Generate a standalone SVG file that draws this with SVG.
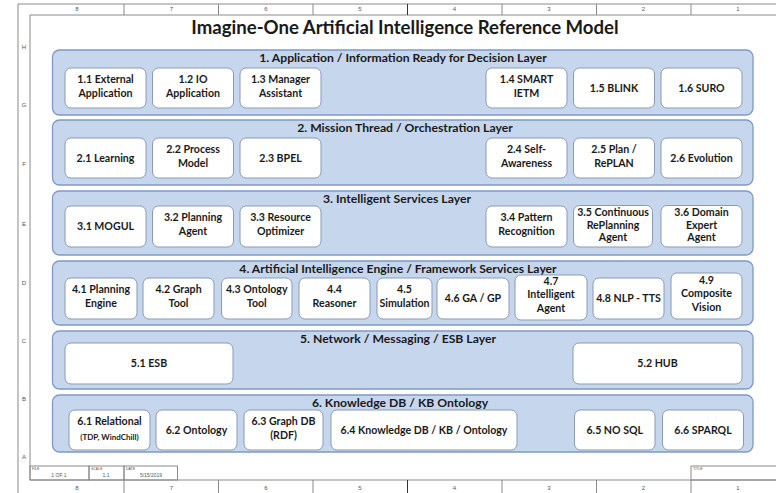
<svg xmlns="http://www.w3.org/2000/svg" width="776" height="493" viewBox="0 0 776 493">
<style>
.frame{fill:none;stroke:#8a8a8a;stroke-width:1}
.rul{font-family:"Liberation Sans",Arial,sans-serif;font-size:6px;fill:#555;text-anchor:middle}
.tb{font-family:"Liberation Sans",Arial,sans-serif;font-size:3.5px;fill:#555}
.tbv{font-family:"Liberation Sans",Arial,sans-serif;font-size:5px;fill:#555;text-anchor:middle}
.layer{fill:#c6d6ed;stroke:#7f99c6;stroke-width:1.3}
.node{fill:#ffffff;stroke:#8c9bb5;stroke-width:1}
.lt{font-family:Lato,"Open Sans",sans-serif;font-weight:bold;font-size:12.2px;fill:#1a1a1a;text-anchor:middle}
.nt{font-family:Lato,"Open Sans",sans-serif;font-weight:bold;font-size:10.6px;fill:#1a1a1a;text-anchor:middle}
.sm{font-size:8px}
.title{font-family:Lato,"Open Sans",sans-serif;font-weight:bold;font-size:18.6px;fill:#1a1a1a;text-anchor:middle}
</style>
<rect width="776" height="493" fill="#ffffff"/>
<g id="frame">
  <line class="frame" x1="18" y1="4" x2="18" y2="493"/>
  <line class="frame" x1="18" y1="4" x2="776" y2="4"/>
  <line class="frame" x1="30" y1="15" x2="776" y2="15"/>
  <line class="frame" x1="30" y1="15" x2="30" y2="480"/>
  <line class="frame" x1="30" y1="480" x2="776" y2="480"/>
  <g stroke="#8a8a8a" stroke-width="1">
    <line x1="124" y1="4" x2="124" y2="15"/><line x1="218.5" y1="4" x2="218.5" y2="15"/><line x1="313" y1="4" x2="313" y2="15"/>
    <line x1="407.5" y1="4" x2="407.5" y2="15" stroke="#333"/>
    <line x1="502" y1="4" x2="502" y2="15"/><line x1="596.5" y1="4" x2="596.5" y2="15"/><line x1="691" y1="4" x2="691" y2="15"/>
    <line x1="124" y1="480" x2="124" y2="493"/><line x1="218.5" y1="480" x2="218.5" y2="493"/><line x1="313" y1="480" x2="313" y2="493"/>
    <line x1="407.5" y1="480" x2="407.5" y2="493" stroke="#333"/>
    <line x1="502" y1="480" x2="502" y2="493"/><line x1="596.5" y1="480" x2="596.5" y2="493"/><line x1="691" y1="480" x2="691" y2="493"/>
  </g>
  <text class="rul" x="77" y="11">8</text><text class="rul" x="171.5" y="11">7</text><text class="rul" x="266" y="11">6</text><text class="rul" x="360" y="11">5</text>
  <text class="rul" x="454.5" y="11">4</text><text class="rul" x="549" y="11">3</text><text class="rul" x="643.5" y="11">2</text><text class="rul" x="738" y="11">1</text>
  <text class="rul" x="77" y="490">8</text><text class="rul" x="171.5" y="490">7</text><text class="rul" x="266" y="490">6</text><text class="rul" x="360" y="490">5</text>
  <text class="rul" x="454.5" y="490">4</text><text class="rul" x="549" y="490">3</text><text class="rul" x="643.5" y="490">2</text><text class="rul" x="738" y="490">1</text>
  <text class="rul" x="24" y="49">H</text><text class="rul" x="24" y="107">G</text><text class="rul" x="24" y="166">F</text><text class="rul" x="24" y="226">E</text>
  <text class="rul" x="24" y="285">D</text><text class="rul" x="24" y="343">C</text><text class="rul" x="24" y="401">B</text><text class="rul" x="24" y="459">A</text>
  <rect class="frame" x="30" y="466" width="59" height="14"/>
  <rect class="frame" x="89" y="466" width="35" height="14"/>
  <rect class="frame" x="124" y="466" width="53.5" height="14"/>
  <rect class="frame" x="691" y="466" width="90" height="14"/>
  <text class="tb" x="32" y="470">FILE</text><text class="tbv" x="59" y="477">1 OF 1</text>
  <text class="tb" x="91" y="470">SCALE</text><text class="tbv" x="106" y="477">1:1</text>
  <text class="tb" x="126" y="470">DATE</text><text class="tbv" x="151" y="477">5/15/2019</text>
  <text class="tb" x="693" y="470">TITLE</text>
</g>
<text class="title" x="405" y="34">Imagine-One Artificial Intelligence Reference Model</text>

<g id="layer1">
  <rect class="layer" x="52.5" y="50" width="700.5" height="65" rx="7"/>
  <text class="lt" x="403" y="61.5">1. Application / Information Ready for Decision Layer</text>
</g>
<g id="layer2">
  <rect class="layer" x="52.5" y="120" width="700.5" height="65" rx="7"/>
  <text class="lt" x="405" y="132">2. Mission Thread / Orchestration Layer</text>
</g>
<g id="layer3">
  <rect class="layer" x="52.5" y="191" width="700.5" height="64" rx="7"/>
  <text class="lt" x="397" y="203">3. Intelligent Services Layer</text>
</g>
<g id="layer4">
  <rect class="layer" x="52.5" y="261" width="700.5" height="64" rx="7"/>
  <text class="lt" x="398" y="272.5">4. Artificial Intelligence Engine / Framework Services Layer</text>
</g>
<g id="layer5">
  <rect class="layer" x="52.5" y="331" width="700.5" height="58" rx="7"/>
  <text class="lt" x="398" y="343">5. Network / Messaging / ESB Layer</text>
</g>
<g id="layer6">
  <rect class="layer" x="52.5" y="395" width="700.5" height="57" rx="7"/>
  <text class="lt" x="400" y="407">6. Knowledge DB / KB Ontology</text>
</g>

<g id="n1_1"><rect class="node" x="65" y="68" width="81" height="40" rx="6"/><text class="nt" x="105.5" y="82.5">1.1 External</text><text class="nt" x="105.5" y="96.5">Application</text></g>
<g id="n1_2"><rect class="node" x="152.5" y="68" width="81" height="40" rx="6"/><text class="nt" x="193" y="82.5">1.2 IO</text><text class="nt" x="193" y="96.5">Application</text></g>
<g id="n1_3"><rect class="node" x="240" y="68" width="81" height="40" rx="6"/><text class="nt" x="280.5" y="82.5">1.3 Manager</text><text class="nt" x="280.5" y="96.5">Assistant</text></g>
<g id="n1_4"><rect class="node" x="486" y="68" width="81" height="40" rx="6"/><text class="nt" x="526.5" y="82.5">1.4 SMART</text><text class="nt" x="526.5" y="96.5">IETM</text></g>
<g id="n1_5"><rect class="node" x="573.5" y="68" width="81" height="40" rx="6"/><text class="nt" x="614" y="91.5">1.5 BLINK</text></g>
<g id="n1_6"><rect class="node" x="661" y="68" width="81" height="40" rx="6"/><text class="nt" x="701.5" y="91.5">1.6 SURO</text></g>

<g id="n2_1"><rect class="node" x="65" y="138" width="81" height="40" rx="6"/><text class="nt" x="105.5" y="161.5">2.1 Learning</text></g>
<g id="n2_2"><rect class="node" x="152.5" y="138" width="81" height="40" rx="6"/><text class="nt" x="193" y="152.5">2.2 Process</text><text class="nt" x="193" y="166.5">Model</text></g>
<g id="n2_3"><rect class="node" x="240" y="138" width="81" height="40" rx="6"/><text class="nt" x="280.5" y="161.5">2.3 BPEL</text></g>
<g id="n2_4"><rect class="node" x="486" y="138" width="81" height="40" rx="6"/><text class="nt" x="526.5" y="152.5">2.4 Self-</text><text class="nt" x="526.5" y="166.5">Awareness</text></g>
<g id="n2_5"><rect class="node" x="573.5" y="138" width="81" height="40" rx="6"/><text class="nt" x="614" y="152.5">2.5 Plan /</text><text class="nt" x="614" y="166.5">RePLAN</text></g>
<g id="n2_6"><rect class="node" x="661" y="138" width="81" height="40" rx="6"/><text class="nt" x="701.5" y="161.5">2.6 Evolution</text></g>

<g id="n3_1"><rect class="node" x="65" y="206" width="81" height="41" rx="6"/><text class="nt" x="105.5" y="230">3.1 MOGUL</text></g>
<g id="n3_2"><rect class="node" x="152.5" y="206" width="81" height="41" rx="6"/><text class="nt" x="193" y="221">3.2 Planning</text><text class="nt" x="193" y="235">Agent</text></g>
<g id="n3_3"><rect class="node" x="240" y="206" width="81" height="41" rx="6"/><text class="nt" x="280.5" y="221">3.3 Resource</text><text class="nt" x="280.5" y="235">Optimizer</text></g>
<g id="n3_4"><rect class="node" x="486" y="206" width="81" height="41" rx="6"/><text class="nt" x="526.5" y="221">3.4 Pattern</text><text class="nt" x="526.5" y="235">Recognition</text></g>
<g id="n3_5"><rect class="node" x="573.5" y="205.5" width="79" height="41.5" rx="6"/><text class="nt" x="613" y="216">3.5 Continuous</text><text class="nt" x="613" y="228.5">RePlanning</text><text class="nt" x="613" y="241">Agent</text></g>
<g id="n3_6"><rect class="node" x="661" y="205.5" width="81" height="41.5" rx="6"/><text class="nt" x="701.5" y="216">3.6 Domain</text><text class="nt" x="701.5" y="228.5">Expert</text><text class="nt" x="701.5" y="241">Agent</text></g>

<g id="n4_1"><rect class="node" x="65" y="278" width="72" height="41" rx="6"/><text class="nt" x="101" y="293">4.1 Planning</text><text class="nt" x="101" y="307">Engine</text></g>
<g id="n4_2"><rect class="node" x="143" y="278" width="71" height="41" rx="6"/><text class="nt" x="178.5" y="293">4.2 Graph</text><text class="nt" x="178.5" y="307">Tool</text></g>
<g id="n4_3"><rect class="node" x="221.5" y="278" width="70.5" height="41" rx="6"/><text class="nt" x="256.75" y="293">4.3 Ontology</text><text class="nt" x="256.75" y="307">Tool</text></g>
<g id="n4_4"><rect class="node" x="299" y="278" width="71" height="41" rx="6"/><text class="nt" x="334.5" y="293">4.4</text><text class="nt" x="334.5" y="307">Reasoner</text></g>
<g id="n4_5"><rect class="node" x="377" y="278" width="55" height="41" rx="6"/><text class="nt" x="404.5" y="293">4.5</text><text class="nt" x="404.5" y="307">Simulation</text></g>
<g id="n4_6"><rect class="node" x="437" y="278" width="72" height="41" rx="6"/><text class="nt" x="473" y="302">4.6 GA / GP</text></g>
<g id="n4_7"><rect class="node" x="515" y="275" width="72" height="45" rx="6"/><text class="nt" x="551" y="285">4.7</text><text class="nt" x="551" y="298">Intelligent</text><text class="nt" x="551" y="311.5">Agent</text></g>
<g id="n4_8"><rect class="node" x="593" y="278" width="71" height="41" rx="6"/><text class="nt" x="628.5" y="302">4.8 NLP - TTS</text></g>
<g id="n4_9"><rect class="node" x="671" y="273" width="71" height="46" rx="6"/><text class="nt" x="706.5" y="283.5">4.9</text><text class="nt" x="706.5" y="297">Composite</text><text class="nt" x="706.5" y="310.5">Vision</text></g>

<g id="n5_1"><rect class="node" x="65" y="343" width="168" height="41" rx="6"/><text class="nt" x="149" y="367">5.1 ESB</text></g>
<g id="n5_2"><rect class="node" x="573" y="343" width="169" height="41" rx="6"/><text class="nt" x="657.5" y="367">5.2 HUB</text></g>

<g id="n6_1"><rect class="node" x="69" y="410" width="81" height="40" rx="6"/><text class="nt" x="109.5" y="425">6.1 Relational</text><text class="nt sm" x="109.5" y="440">(TDP, WindChill)</text></g>
<g id="n6_2"><rect class="node" x="156" y="410" width="81" height="40" rx="6"/><text class="nt" x="196.5" y="433.5">6.2 Ontology</text></g>
<g id="n6_3"><rect class="node" x="244" y="410" width="79" height="40" rx="6"/><text class="nt" x="283.5" y="425">6.3 Graph DB</text><text class="nt" x="283.5" y="438.5">(RDF)</text></g>
<g id="n6_4"><rect class="node" x="331" y="410" width="186" height="40" rx="6"/><text class="nt" x="424" y="433.5">6.4 Knowledge DB / KB / Ontology</text></g>
<g id="n6_5"><rect class="node" x="574.5" y="410" width="80.5" height="40" rx="6"/><text class="nt" x="614.75" y="433.5">6.5 NO SQL</text></g>
<g id="n6_6"><rect class="node" x="662.5" y="410" width="81" height="40" rx="6"/><text class="nt" x="703" y="433.5">6.6 SPARQL</text></g>

<g id="connectors"></g>
</svg>
